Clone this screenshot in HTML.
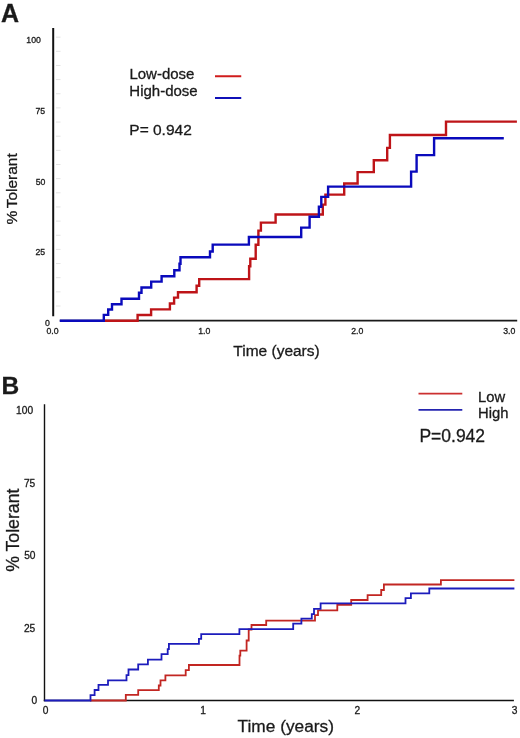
<!DOCTYPE html>
<html><head><meta charset="utf-8">
<style>
html,body{margin:0;padding:0;background:#fff;}
body{width:520px;height:738px;overflow:hidden;position:relative;}
svg{position:absolute;left:0;top:0;will-change:transform;}
text{font-family:"Liberation Sans",sans-serif;fill:#1a1a1a;stroke:#1a1a1a;stroke-width:0.3px;}
</style></head><body>
<svg width="520" height="738" viewBox="0 0 520 738">
<!-- ===== Panel A ===== -->
<text x="1.0" y="21.8" font-size="25" font-weight="bold" fill="#000">A</text>
<!-- minor y ticks -->
<g stroke="#e2e2e2" stroke-width="1">
<path d="M56 37.15H60.5 M56 51.30H60.5 M56 65.45H60.5 M56 79.60H60.5 M56 93.75H60.5 M56 107.90H60.5 M56 122.05H60.5 M56 136.20H60.5 M56 150.35H60.5 M56 164.50H60.5 M56 178.65H60.5 M56 192.80H60.5 M56 206.95H60.5 M56 221.10H60.5 M56 235.25H60.5 M56 249.40H60.5 M56 263.55H60.5 M56 277.70H60.5 M56 291.85H60.5 M56 306.00H60.5"/>
</g>
<!-- axes -->
<line x1="53.2" y1="28" x2="53.2" y2="316.3" stroke="#111" stroke-width="2"/>
<line x1="59.8" y1="320.6" x2="517.2" y2="320.6" stroke="#1a1a1a" stroke-width="1.9"/>
<!-- y labels -->
<g font-size="8.7" text-anchor="end">
<text x="40.8" y="42.9">100</text>
<text x="45.2" y="114">75</text>
<text x="45.3" y="184.9">50</text>
<text x="45.2" y="254.9">25</text>
<text x="49.8" y="325.6">0</text>
</g>
<g font-size="8.7" text-anchor="middle">
<text x="52.5" y="334.3">0.0</text>
<text x="204.3" y="334.3">1.0</text>
<text x="357.3" y="334.3">2.0</text>
<text x="509.2" y="334.3">3.0</text>
</g>
<text x="233.3" y="355.9" font-size="15.5">Time (years)</text>
<text transform="translate(17.4,188.8) rotate(-90)" font-size="15.5" word-spacing="-1.8" text-anchor="middle">% Tolerant</text>
<!-- legend A -->
<text x="129.4" y="78.9" font-size="15">Low-dose</text>
<text x="129.3" y="96.4" font-size="15">High-dose</text>
<text x="129.3" y="135.2" font-size="15.5">P= 0.942</text>
<line x1="215" y1="76.25" x2="241.25" y2="76.25" stroke="#d01c1c" stroke-width="2"/>
<line x1="215" y1="98" x2="241.25" y2="98" stroke="#1010b8" stroke-width="2"/>
<!-- curves A -->
<path fill="none" stroke="#be1418" stroke-width="2.4" stroke-linejoin="miter" stroke-linecap="butt"
d="M103 320.8 H137.6 V315 H151.1 V309.4 H169.9 V303.5 H174.1 V297.6 H178 V292.2 H196.6 V285.8 H199.2 V279.1 H249.1 V266.2 H250.3 V258.7 H255.7 V244.8 H258.4 V230.6 H260.9 V222.6 H275.6 V214.5 H322.8 V204.6 H325.4 V194.6 H344.2 V183.5 H357.6 V172.1 H373.8 V160.3 H387.2 V147.9 H389.9 V135 H446 V121.6 H516.9"/>
<path fill="none" stroke="#0a0abc" stroke-width="2.4" stroke-linejoin="miter" stroke-linecap="butt"
d="M59.8 320.8 H103.8 V314.9 H108.2 V309.5 H112 V304.2 H121.5 V298.7 H139 V292.8 H141.5 V287.5 H151.2 V281.6 H161.6 V276.3 H174.3 V270.3 H179.5 V263.8 H180.5 V257.3 H210 V251.5 H212.7 V244.6 H248.9 V237 H301.2 V227.6 H309.6 V216.8 H318.9 V206.8 H321.3 V196.9 H328.1 V186.6 H411.1 V171.6 H416.6 V155.1 H434.1 V138.3 H503.8"/>

<!-- ===== Panel B ===== -->
<text x="1.4" y="393.5" font-size="24.5" font-weight="bold" fill="#000">B</text>
<line x1="44.5" y1="404.2" x2="44.5" y2="701.2" stroke="#111" stroke-width="1.4"/>
<line x1="43.8" y1="700.5" x2="513.9" y2="700.5" stroke="#111" stroke-width="1.5"/>
<g font-size="10.2" text-anchor="end">
<text x="33.1" y="413.5">100</text>
<text x="35.3" y="486.7">75</text>
<text x="35.5" y="559.4">50</text>
<text x="35.3" y="632.1">25</text>
<text x="37.1" y="703.8">0</text>
</g>
<g font-size="10.2" text-anchor="middle">
<text x="45.5" y="713.7">0</text>
<text x="203" y="713.8">1</text>
<text x="357.3" y="713.8">2</text>
<text x="514.6" y="713.8">3</text>
</g>
<text x="237.6" y="732" font-size="17.3">Time (years)</text>
<text transform="translate(18.8,530.2) rotate(-90)" font-size="17.7" text-anchor="middle">% Tolerant</text>
<!-- legend B -->
<line x1="418.5" y1="393.6" x2="462.3" y2="393.6" stroke="#cc3030" stroke-width="1.6"/>
<line x1="418.5" y1="409.9" x2="462.3" y2="409.9" stroke="#2424b0" stroke-width="1.6"/>
<text x="478" y="402.1" font-size="14.8">Low</text>
<text x="478" y="418.3" font-size="14.8">High</text>
<text x="419.4" y="442.4" font-size="17.5">P=0.942</text>
<!-- curves B -->
<path fill="none" stroke="#c22622" stroke-width="1.8"
d="M90 700.5 H125.8 V694.9 H138.2 V690.1 H158.8 V685.5 H160.5 V680.4 H165.4 V675.3 H185.7 V670.1 H188.9 V665 H239.5 V655.6 H240.3 V650.6 H246.6 V640.5 H248.7 V629.5 H251.5 V625 H266.2 V620.6 H315 V615.2 H318 V610.3 H337.3 V604.8 H351.2 V600 H367.6 V595.1 H381.2 V590 H383.9 V584.5 H440.9 V580.1 H514.4"/>
<path fill="none" stroke="#1c1cbc" stroke-width="1.8"
d="M44.5 700.5 H90.5 V695.1 H94.6 V690 H98.5 V684.9 H108 V680.3 H126.5 V675.1 H128.5 V669.5 H138.2 V664.3 H147.9 V659.6 H161.5 V654.2 H167.7 V649.2 H168.9 V643.9 H198.9 V638.8 H201.2 V634.1 H239.4 V629.2 H293.2 V623.7 H301.4 V618.7 H311.8 V614.1 H314 V608.8 H320.6 V603.4 H405.5 V598.1 H410.9 V593.4 H429.3 V588.5 H514.4"/>
</svg>
</body></html>
